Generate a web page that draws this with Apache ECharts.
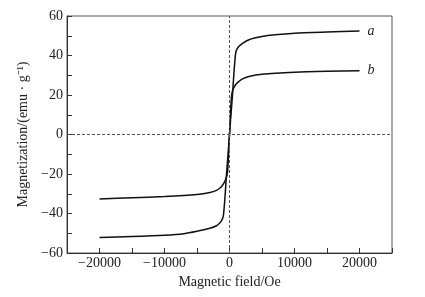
<!DOCTYPE html>
<html>
<head>
<meta charset="utf-8">
<title>Magnetization curves</title>
<script src="https://cdn.jsdelivr.net/npm/echarts@6/dist/echarts.min.js"></script>
<style>
  html, body { margin: 0; padding: 0; background: #fff; }
  #chart { width: 425px; height: 297px; }
</style>
</head>
<body>
<div id="chart"></div>
<script>
// field (Oe) and magnetization (emu/g)
var fieldA = [-20000, -15000, -10000, -7000, -5000, -3000, -2000, -1500, -1200, -960, -700, -460, -200, 0,
              200, 460, 700, 960, 1200, 1500, 2000, 3000, 5000, 7000, 10000, 15000, 20000];
var magA   = [-52.2, -51.7, -51.0, -50.2, -49.0, -47.5, -46.2, -44.8, -43.5, -41.5, -32.0, -20.0, -9.0, 0,
              9.0, 20.0, 32.0, 41.5, 43.5, 44.8, 46.2, 48.0, 49.6, 50.5, 51.3, 51.9, 52.4];

var fieldB = [-20000, -15000, -10000, -5000, -3000, -2000, -1500, -1100, -800, -500, -300, -150, 0,
              150, 300, 500, 800, 1100, 1500, 2000, 3000, 5000, 10000, 15000, 20000];
var magB   = [-32.6, -32.0, -31.4, -30.4, -29.4, -28.3, -27.2, -25.8, -24.2, -22.0, -19.0, -10.0, 0,
              10.0, 19.0, 22.5, 24.5, 25.8, 27.0, 28.2, 29.4, 30.5, 31.5, 32.0, 32.3];

var curveNames = ['a', 'b'];

function pairs(xs, ys) {
    var out = [];
    for (var i = 0; i < xs.length; i++) out.push([xs[i], ys[i]]);
    return out;
}
function minus(v) {
    return v < 0 ? '\u2212' + Math.abs(v) : String(v);
}

var font = 'Liberation Serif';
var chart = echarts.init(document.getElementById('chart'), null, { renderer: 'canvas' });

chart.setOption({
    animation: false,
    backgroundColor: '#fff',
    grid: {
        left: 67, right: 33, top: 16, bottom: 44,
        show: true, borderColor: '#555', borderWidth: 1, backgroundColor: 'transparent'
    },
    xAxis: {
        type: 'value', min: -25000, max: 25000, interval: 5000,
        name: 'Magnetic field/Oe', nameLocation: 'middle', nameGap: 18,
        nameTextStyle: { fontFamily: font, fontSize: 14, color: '#222' },
        axisLine: { show: true, onZero: false, lineStyle: { color: '#333', width: 1 } },
        axisTick: { inside: true, length: 5, lineStyle: { color: '#333' } },
        axisLabel: {
            fontFamily: font, fontSize: 14, color: '#222', margin: 3,
            showMinLabel: true, showMaxLabel: true,
            formatter: function (v) { return (v % 10000 === 0 && Math.abs(v) < 25000) ? minus(v) : ''; }
        },
        splitLine: { show: false }
    },
    yAxis: {
        type: 'value', min: -60, max: 60, interval: 20,
        name: 'Magnetization/(emu \u00b7 g\u207b\u00b9)', nameLocation: 'middle', nameGap: 35,
        nameTextStyle: { fontFamily: font, fontSize: 14, color: '#222' },
        axisLine: { show: true, onZero: false, lineStyle: { color: '#333', width: 1 } },
        axisTick: { inside: true, length: 5, lineStyle: { color: '#333' } },
        minorTick: { show: true, splitNumber: 2, length: 5, lineStyle: { color: '#333' } },
        axisLabel: {
            fontFamily: font, fontSize: 14, color: '#222', margin: 4,
            formatter: function (v) { return minus(v); }
        },
        splitLine: { show: false }
    },
    series: [
        {
            name: curveNames[0], type: 'line', data: pairs(fieldA, magA),
            showSymbol: false, smooth: 0.25,
            lineStyle: { color: '#111', width: 1.5 },
            endLabel: {
                show: true, formatter: curveNames[0], distance: 8,
                fontFamily: font, fontStyle: 'italic', fontSize: 14, color: '#222'
            },
            markLine: {
                silent: true, symbol: 'none', label: { show: false },
                lineStyle: { color: '#555', type: [3, 2], width: 1 },
                data: [{ xAxis: 0 }, { yAxis: 0 }]
            },
            z: 3
        },
        {
            name: curveNames[1], type: 'line', data: pairs(fieldB, magB),
            showSymbol: false, smooth: 0.25,
            lineStyle: { color: '#111', width: 1.5 },
            endLabel: {
                show: true, formatter: curveNames[1], distance: 8,
                fontFamily: font, fontStyle: 'italic', fontSize: 14, color: '#222'
            },
            z: 3
        }
    ]
});
</script>
</body>
</html>
